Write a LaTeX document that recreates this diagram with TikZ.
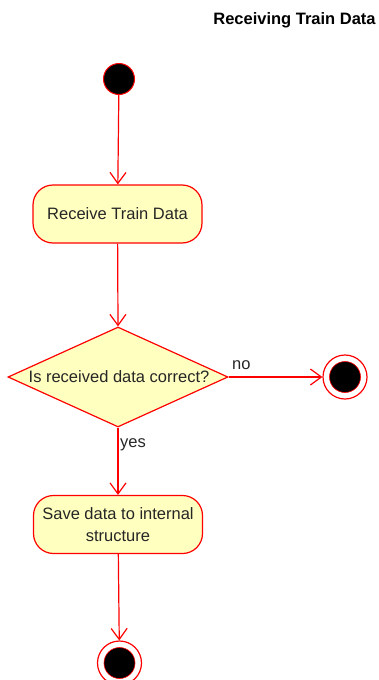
\documentclass[tikz,border=0pt]{standalone}
\usepackage{fontspec}
\setmainfont{Liberation Sans}
\usetikzlibrary{arrows.meta,shapes.geometric}
\definecolor{lineRed}{HTML}{FF0000}
\definecolor{fillYellow}{HTML}{FFFFC0}
\definecolor{txt}{HTML}{262626}
\tikzset{
  base/.style={font=\fontsize{16.5}{22}\selectfont, text=txt},
  action/.style={base, draw=lineRed, fill=fillYellow, line width=1.2pt, rounded corners=20pt, minimum width=169pt, minimum height=58pt, inner sep=2pt, align=center},
  decision/.style={base, draw=lineRed, fill=fillYellow, line width=1.2pt, diamond, aspect=2.2, minimum width=220pt, minimum height=100pt, inner sep=0pt},
  startnode/.style={circle, draw=lineRed, fill=black, line width=1pt, minimum size=31pt, inner sep=0pt},
  endouter/.style={circle, draw=lineRed, fill=white, line width=1.2pt, minimum size=44pt, inner sep=0pt},
  endinner/.style={circle, draw=lineRed, fill=black, line width=0.6pt, minimum size=31pt, inner sep=0pt},
  flow/.style={draw=lineRed, line width=1.2pt, -{Straight Barb[length=11pt,width=16pt,line width=1.2pt]}},
  lbl/.style={base, inner sep=0pt},
}
\begin{document}
\begin{tikzpicture}[x=1pt,y=-1pt]
\useasboundingbox (0,0) rectangle (378,680);
\node[lbl, font=\fontsize{16.5}{20}\selectfont\bfseries, text=black] (title) at (294.5,20) {Receiving Train Data};
\node[startnode] (start) at (119,79) {};
\node[action] (recv) at (117.5,214) {Receive Train Data};
\node[decision, draw, shape aspect=2.2] (dec) at (118,377) {};
\node[lbl] (dectext) at (119,377) {Is received data correct?};
\node[endouter] (end1) at (345,377) {};
\node[endinner] (end1i) at (345,377) {};
\node[action] (save) at (118,524.5) {Save data to internal\\structure};
\node[endouter] (end2) at (119.5,663) {};
\node[endinner] (end2i) at (119.5,663) {};
\node[lbl, anchor=west] (no) at (232,365) {no};
\node[lbl, anchor=west] (yes) at (120,445) {yes};
\draw[flow] (start) -- (recv);
\draw[flow] (recv) -- (dec.north);
\draw[flow] (dec.east) -- (end1);
\draw[flow] (dec.south) -- (save);
\draw[flow] (save) -- (end2);
\end{tikzpicture}
\end{document}
